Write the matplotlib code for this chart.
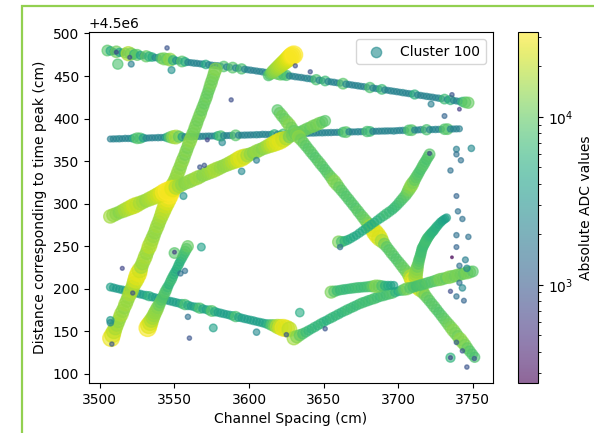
import numpy as np
import matplotlib
matplotlib.use("Agg")
import matplotlib.pyplot as plt
from matplotlib.colors import LogNorm
from matplotlib.patches import Rectangle

# Time-peak distances are stored relative to this baseline (cm)
Y_OFFSET = 4.5e6

# ---- hit tracks: channel position (cm), relative distance (cm), |ADC| ----
A_x = [3505, 3507, 3509, 3511, 3513, 3515, 3517, 3519, 3521, 3523, 3525, 3527, 3529, 3531,
       3533, 3535, 3537, 3539, 3541, 3543, 3545, 3547, 3549, 3551, 3553, 3555, 3557, 3559,
       3561, 3563, 3565, 3567, 3569, 3571, 3573, 3575, 3577, 3579, 3581, 3583, 3585, 3587,
       3589, 3591, 3593, 3595, 3597, 3599, 3601, 3603, 3605, 3607, 3609, 3611, 3613, 3615,
       3617, 3619, 3621, 3623, 3625, 3627, 3629, 3631, 3633, 3635, 3637, 3639, 3641, 3643,
       3645, 3647, 3649, 3651, 3653, 3655, 3657, 3659, 3661, 3663, 3665, 3667, 3669, 3671,
       3673, 3675, 3677, 3679, 3681, 3683, 3685, 3687, 3689, 3691, 3693, 3695, 3697, 3699,
       3701, 3703, 3705, 3707, 3709, 3711, 3713, 3715, 3717, 3719, 3721, 3723, 3725, 3727,
       3729, 3731, 3733, 3735, 3737, 3739, 3741, 3743, 3745, 3747]
A_y = [480.0, 479.6, 478.9, 478.5, 477.8, 477.5, 477.0, 476.3, 475.9, 475.5,
       474.8, 474.4, 473.9, 473.2, 472.9, 472.3, 471.7, 471.4, 470.8, 470.2,
       469.8, 469.3, 468.6, 468.3, 467.7, 467.1, 466.8, 466.1, 465.7, 465.2,
       464.9, 464.4, 464.0, 463.6, 463.2, 462.8, 462.3, 462.0, 461.5, 461.2,
       460.7, 460.3, 459.9, 459.5, 459.0, 458.4, 458.0, 457.4, 456.9, 456.5,
       455.9, 455.4, 454.9, 454.3, 453.9, 453.3, 452.8, 452.4, 451.8, 451.3,
       450.8, 450.2, 449.8, 449.2, 448.7, 448.3, 447.7, 447.2, 446.7, 446.1,
       445.7, 445.1, 444.6, 444.2, 443.6, 443.1, 442.6, 442.0, 441.6, 441.0,
       440.5, 440.1, 439.5, 439.0, 438.5, 437.9, 437.5, 436.9, 436.5, 435.9,
       435.3, 434.8, 434.3, 433.7, 433.2, 432.6, 432.1, 431.6, 431.0, 430.5,
       429.9, 429.4, 428.9, 428.3, 427.8, 427.2, 426.7, 426.1, 425.6, 425.1,
       424.5, 424.0, 423.4, 422.9, 422.4, 421.8, 421.3, 420.7, 420.2, 419.6,
       419.1, 418.6]
A_adc = [9000, 5000, 2600, 11000, 4500, 2800, 7000, 18000, 12000, 6000,
         9500, 4000, 2500, 10000, 6000, 5000, 2400, 2600, 8000, 12000,
         10000, 14000, 6000, 2800, 2500, 9000, 5000, 2300, 2100, 2400,
         2200, 2100, 2500, 5000, 2300, 2100, 2200, 2400, 2000, 8500,
         2200, 2100, 9000, 2300, 2000, 8000, 2200, 2100, 2300, 1900,
         2200, 2000, 2400, 2100, 2200, 2000, 2300, 9000, 10000, 7000,
         8000, 2200, 2100, 2300, 2000, 2200, 1900, 2400, 2100, 2200,
         8000, 2300, 2000, 7000, 2200, 2100, 2300, 2000, 2200, 9000,
         2400, 2100, 2200, 2000, 2300, 2100, 2200, 1900, 8000, 2200,
         2100, 2300, 7000, 2200, 2000, 2300, 2100, 2200, 2000, 2400,
         2100, 2200, 2300, 6000, 2100, 2200, 2000, 2300, 2100, 2200,
         2000, 2400, 2100, 7000, 2200, 6000, 2100, 2300, 2200, 6000,
         9000, 10000]

B_x = [3507, 3509, 3511, 3513, 3515, 3517, 3519, 3521, 3523, 3525, 3527, 3529, 3531, 3533,
       3535, 3537, 3539, 3541, 3543, 3545, 3547, 3549, 3551, 3553, 3555, 3557, 3559, 3561,
       3563, 3565, 3567, 3569, 3571, 3573, 3575, 3577, 3579, 3581, 3583, 3585, 3587, 3589,
       3591, 3593, 3595, 3597, 3599, 3601, 3603, 3605, 3607, 3609, 3611, 3613, 3615, 3617,
       3619, 3621, 3623, 3625, 3627, 3629, 3631, 3633, 3635, 3637, 3639, 3641, 3643, 3645,
       3647, 3649, 3651, 3653, 3655, 3657, 3659, 3661, 3663, 3665, 3667, 3669, 3671, 3673,
       3675, 3677, 3679, 3681, 3683, 3685, 3687, 3689, 3691, 3693, 3695, 3697, 3699, 3701,
       3703, 3705, 3707, 3709, 3711, 3713, 3715, 3717, 3719, 3721, 3723, 3725, 3727, 3729,
       3731, 3733, 3735, 3737, 3739, 3741]
B_y = [376.0, 376.1, 376.2, 376.3, 376.4, 376.7, 376.6, 376.7, 376.8, 376.9,
       377.0, 377.1, 377.0, 377.3, 377.4, 377.5, 377.6, 377.7, 377.8, 377.9,
       378.1, 378.2, 378.3, 378.7, 378.5, 378.6, 378.7, 378.8, 378.9, 379.0,
       379.1, 379.2, 379.3, 379.4, 379.5, 379.6, 379.7, 379.6, 379.9, 380.0,
       380.1, 380.2, 380.3, 380.4, 380.5, 380.6, 380.7, 380.8, 380.9, 381.0,
       381.1, 381.5, 381.3, 381.4, 381.5, 381.6, 381.7, 381.8, 382.0, 382.1,
       382.2, 382.3, 382.4, 382.5, 382.6, 382.7, 382.6, 382.9, 383.0, 383.1,
       383.2, 383.3, 383.4, 383.5, 383.6, 383.7, 383.8, 383.9, 384.0, 384.1,
       384.5, 384.3, 384.4, 384.5, 384.6, 384.7, 384.8, 384.9, 385.0, 385.1,
       385.2, 385.3, 385.4, 385.5, 385.6, 385.4, 385.8, 386.0, 386.1, 386.2,
       386.3, 386.4, 386.5, 386.6, 387.0, 386.8, 386.9, 387.0, 387.1, 387.2,
       387.3, 387.4, 387.5, 387.6, 387.7, 387.8, 387.9, 388.0]
B_adc = [2000, 2200, 2100, 2400, 2000, 2300, 2200, 2500, 5000, 9000,
         8000, 4000, 2300, 2100, 2200, 2000, 2400, 2200, 2300, 5000,
         9000, 14000, 17000, 10000, 4000, 2200, 2100, 2300, 2000, 2200,
         2400, 2100, 2200, 2300, 2000, 2200, 5000, 8000, 2400, 2100,
         2200, 2300, 9000, 2200, 2000, 2300, 2100, 2200, 2000, 2400,
         2100, 2200, 2300, 2000, 2200, 6000, 2100, 2300, 7000, 2200,
         2000, 2300, 2100, 2200, 2400, 2000, 2200, 2100, 2300, 2200,
         2000, 2400, 2100, 2200, 2300, 2000, 2200, 2100, 7000, 9000,
         2300, 2200, 2000, 2400, 2100, 2200, 8000, 7000, 2300, 2000,
         2200, 2100, 2300, 2200, 2000, 2400, 2100, 2200, 2300, 2000,
         8000, 9000, 2200, 2100, 2300, 2000, 8000, 2200, 2100, 2400,
         2200, 2000, 8500, 9000, 2300, 2100, 2200, 2000]

K_x = [3507, 3509, 3511, 3513, 3515, 3517, 3519, 3521, 3523, 3525, 3527, 3529, 3531, 3533,
       3535, 3537, 3539, 3541, 3543, 3545, 3547, 3549, 3551, 3553, 3555, 3557, 3559, 3561,
       3563, 3565, 3567, 3569, 3571, 3573, 3575, 3577, 3579, 3581, 3583, 3585, 3587, 3589,
       3591, 3593, 3595, 3597, 3599, 3601, 3603, 3605, 3607, 3609, 3611, 3613, 3615, 3617,
       3619, 3621, 3623, 3625, 3627]
K_y = [202.0, 201.2, 200.3, 199.5, 198.7, 197.9, 197.0, 196.2, 195.4, 194.6,
       193.7, 192.9, 192.1, 191.3, 190.4, 189.6, 188.8, 188.0, 187.1, 186.3,
       185.5, 184.7, 183.8, 183.0, 182.2, 181.4, 180.5, 179.7, 178.9, 178.0,
       177.2, 176.4, 175.6, 174.7, 173.9, 173.1, 172.3, 171.4, 170.6, 169.8,
       169.0, 168.1, 167.3, 166.5, 165.7, 164.8, 164.0, 163.2, 162.4, 161.5,
       160.7, 159.9, 159.0, 158.2, 157.4, 156.6, 155.7, 154.9, 154.1, 153.3, 152.4]
K_adc = [4000, 3800, 3600, 3500, 3900, 3700, 3400, 3000, 3600, 3800,
         4000, 3700, 4500, 6000, 4200, 3900, 3700, 3800, 4000, 3600,
         3800, 3900, 4100, 3800, 5500, 8000, 5000, 3700, 3900, 5500,
         8000, 4500, 3800, 5500, 9000, 5000, 3900, 4100, 3800, 3700,
         4000, 5000, 8000, 4500, 3800, 4000, 3700, 3900, 4100, 3800,
         4000, 4200, 4500, 6000, 9000, 12000, 18000, 22000, 28000, 26000, 20000]

C_x = [3507.5, 3508.5, 3509.4, 3510.4, 3511.4, 3512.4, 3513.3, 3514.3, 3515.3, 3516.3,
       3517.2, 3518.2, 3519.1, 3520.1, 3521.0, 3522.0, 3522.9, 3523.9, 3524.8, 3525.8,
       3526.7, 3527.7, 3528.6, 3529.6, 3530.5, 3531.4, 3532.3, 3533.2, 3534.1, 3535.0,
       3535.9, 3536.8, 3537.7, 3538.6, 3539.5, 3540.4, 3541.3, 3542.2, 3543.1, 3544.0,
       3544.9, 3545.7, 3546.6, 3547.5, 3548.4, 3549.2, 3550.1, 3551.0, 3551.8, 3552.7,
       3553.6, 3554.4, 3555.3, 3556.2, 3557.1, 3557.9, 3558.8, 3559.6, 3560.5, 3561.4,
       3562.2, 3563.1, 3563.9, 3564.8, 3565.6, 3566.5, 3567.4, 3568.2, 3569.1, 3569.9,
       3570.8, 3571.6, 3572.3, 3573.1, 3573.8, 3574.6, 3575.3, 3576.1, 3576.8, 3577.6]
C_y = [142, 146, 150, 154, 158, 162, 166, 170, 174, 178,
       182, 186, 190, 194, 198, 202, 206, 210, 214, 218,
       222, 226, 230, 234, 238, 242, 246, 250, 254, 258,
       262, 266, 270, 274, 278, 282, 286, 290, 294, 298,
       302, 306, 310, 314, 318, 322, 326, 330, 334, 338,
       342, 346, 350, 354, 358, 362, 366, 370, 374, 378,
       382, 386, 390, 394, 398, 402, 406, 410, 414, 418,
       422, 426, 430, 434, 438, 442, 446, 450, 454, 458]
C_adc = [28000, 24000, 20000, 17000, 16000, 15000, 15000, 17000, 15000, 14000,
         16000, 15000, 15000, 17000, 18000, 16000, 19000, 23000, 26000, 27000,
         22000, 16000, 15000, 16000, 17000, 15000, 16000, 19000, 17000, 16000,
         15000, 14000, 15000, 16000, 15000, 16000, 17000, 19000, 20000, 22000,
         25000, 28000, 32000, 31000, 26000, 20000, 16000, 15000, 14000, 15000,
         14000, 13000, 14000, 13000, 12000, 13000, 12000, 13000, 14000, 13000,
         12000, 11000, 12000, 12000, 11000, 11500, 12000, 10500, 11000, 10000,
         10500, 11000, 10000, 10500, 11000, 12000, 11000, 11500, 12000, 13000]

D_x = [3507, 3509, 3511, 3513, 3515, 3517, 3519, 3521, 3523, 3525, 3527, 3529, 3531, 3533,
       3535, 3537, 3539, 3541, 3543, 3545, 3547, 3549, 3551, 3553, 3555, 3557, 3559, 3561,
       3563, 3565, 3567, 3569, 3571, 3573, 3575, 3577, 3579, 3581, 3583, 3585, 3587, 3589,
       3591, 3593, 3595, 3597, 3599, 3601, 3603, 3605, 3607, 3609, 3611, 3613, 3615, 3617,
       3619, 3621, 3623, 3625, 3627, 3629, 3631, 3633, 3635, 3637, 3639, 3641, 3643, 3645,
       3647, 3649, 3651]
D_y = [285.0, 286.6, 288.1, 289.7, 291.2, 292.8, 294.4, 295.9, 297.5, 299.0,
       300.6, 302.2, 303.7, 305.3, 306.8, 308.4, 310.0, 311.5, 313.1, 314.6,
       316.2, 317.8, 319.3, 320.9, 322.4, 324.0, 325.6, 327.1, 328.7, 330.2,
       331.8, 333.4, 334.9, 336.5, 338.0, 339.6, 341.2, 342.7, 344.3, 345.8,
       347.4, 349.0, 350.5, 352.1, 353.6, 355.2, 356.8, 358.3, 359.9, 361.4,
       363.0, 364.6, 366.1, 367.7, 369.2, 370.8, 372.4, 373.9, 375.5, 377.0,
       378.6, 380.2, 381.7, 383.3, 384.8, 386.4, 388.0, 389.5, 391.1, 392.6,
       394.2, 395.8, 397.3]
D_adc = [16000, 15000, 14000, 13000, 15000, 17000, 18000, 20000, 22000, 20000,
         17000, 16000, 15000, 17000, 18000, 20000, 22000, 25000, 30000, 32000,
         30000, 26000, 18000, 16000, 14000, 13000, 14000, 15000, 14000, 16000,
         15000, 13000, 14000, 15000, 16000, 17000, 16000, 15000, 14000, 15000,
         16000, 18000, 20000, 24000, 26000, 22000, 16000, 14000, 13000, 15000,
         14000, 13000, 15000, 17000, 20000, 23000, 25000, 26000, 22000, 17000,
         12000, 11000, 10000, 11000, 9500, 10000, 11000, 10000, 12000, 11000,
         12000, 10000, 9000]

E_x = [3619.0, 3620.6, 3622.2, 3623.8, 3625.4, 3627.0, 3628.6, 3630.1, 3631.7, 3633.3,
       3634.9, 3636.5, 3638.1, 3639.7, 3641.3, 3642.9, 3644.5, 3646.1, 3647.7, 3649.3,
       3650.9, 3652.4, 3654.0, 3655.6, 3657.2, 3658.8, 3660.4, 3662.0, 3663.6, 3665.2,
       3666.8, 3668.4, 3670.0, 3671.6, 3673.1, 3674.7, 3676.3, 3677.9, 3679.5, 3681.1,
       3682.7, 3684.3, 3685.9, 3687.5, 3689.1, 3690.7, 3692.3, 3693.9, 3695.4, 3697.0,
       3698.6, 3700.2, 3701.8, 3703.4, 3705.0, 3706.6, 3708.2, 3709.8, 3711.4, 3713.0,
       3714.6, 3716.2, 3717.7, 3719.3, 3720.9, 3722.5, 3724.1, 3725.7, 3727.3, 3728.9,
       3730.5, 3732.1, 3733.7, 3735.3, 3736.9, 3738.5, 3740.0, 3741.6, 3743.2, 3744.8,
       3746.4, 3748.0, 3749.6, 3751.2]
E_y = [410.0, 406.5, 403.0, 399.5, 396.0, 392.5, 389.0, 385.5, 382.0, 378.5,
       375.0, 371.5, 368.0, 364.5, 361.0, 357.5, 354.0, 350.5, 347.0, 343.5,
       340.0, 336.5, 333.0, 329.5, 326.0, 322.5, 319.0, 315.5, 312.0, 308.5,
       305.0, 301.5, 298.0, 294.5, 291.0, 287.5, 284.0, 280.5, 277.0, 273.5,
       270.0, 266.5, 263.0, 259.5, 256.0, 252.5, 249.0, 245.5, 242.0, 238.5,
       235.0, 231.5, 228.0, 224.5, 221.0, 217.5, 214.0, 210.5, 207.0, 203.5,
       200.0, 196.5, 193.0, 189.5, 186.0, 182.5, 179.0, 175.5, 172.0, 168.5,
       165.0, 161.5, 158.0, 154.5, 151.0, 147.5, 144.0, 140.5, 137.0, 133.5,
       130.0, 126.5, 123.0, 119.5]
E_adc = [9000, 10000, 11000, 10000, 12000, 13000, 11000, 10000, 12000, 14000,
         11000, 10000, 9500, 9000, 9500, 9000, 8500, 9000, 9500, 9000,
         8500, 9000, 9500, 11000, 13000, 12000, 10000, 9500, 9000, 8500,
         9000, 8500, 9000, 8500, 9500, 9000, 10000, 10500, 12000, 16000,
         20000, 26000, 27000, 24000, 16000, 11000, 9500, 9000, 9500, 9000,
         8500, 9000, 9500, 10000, 10500, 12000, 18000, 26000, 30000, 28000,
         22000, 14000, 11000, 10000, 9500, 9000, 9500, 9000, 8500, 9000,
         9500, 10000, 11000, 12000, 13000, 12000, 11000, 14000, 13000, 12000,
         10000, 9000, 8500, 8000]

F_x = [3613, 3614, 3615, 3616, 3617, 3618, 3619, 3620, 3621, 3622, 3623, 3624, 3625, 3626,
       3627, 3628, 3629, 3630]
F_y = [450.5, 452.0, 453.5, 455.0, 456.5, 458.0, 459.5, 461.0, 462.5, 464.0, 465.5, 467.0,
       468.5, 470.0, 471.5, 473.0, 474.0, 475.0]
F_adc = [8000, 9000, 11000, 13000, 14000, 15000, 16000, 17000, 18000, 19000, 20000, 21000,
         22000, 24000, 26000, 28000, 30000, 32000]

G_x = [3660, 3662, 3664, 3666, 3668, 3670, 3672, 3674, 3676, 3678, 3680, 3682, 3684, 3686,
       3688, 3690, 3692, 3694, 3696, 3697.5, 3699, 3700.5, 3702, 3703.5, 3705, 3706, 3707,
       3708, 3709, 3710, 3711, 3712, 3713, 3714, 3715, 3716, 3717, 3718, 3719, 3720, 3721]
G_y = [255.0, 255.3, 256.0, 257.3, 259.0, 261.0, 263.0, 265.5, 268.0, 270.5, 273.0, 275.5,
       278.0, 280.5, 283.0, 285.5, 288.0, 290.5, 293.0, 295.5, 298.0, 301.0, 304.0, 307.0,
       310.0, 313.0, 316.0, 319.0, 322.0, 325.0, 328.0, 331.0, 334.0, 337.0, 340.0, 343.0,
       346.0, 349.0, 352.0, 355.0, 358.0]
G_adc = [12000, 8000, 6000, 5500, 5000, 4800, 4500, 4800, 5000, 5200, 5500, 5200, 5000, 5500,
         6000, 6500, 7000, 6800, 6500, 6800, 7000, 7500, 8000, 8500, 9000, 10000, 12000,
         13000, 14000, 12000, 10000, 9500, 9000, 8500, 8000, 8500, 9000, 8500, 8000, 8500, 9000]

H_x = [3711.5, 3711.8, 3712.1, 3712.5, 3712.9, 3713.4, 3713.8, 3714.2, 3714.6, 3715.0,
       3715.3, 3715.7, 3716.0, 3716.5, 3717.1, 3717.6, 3718.2, 3718.8, 3719.4, 3720.1,
       3720.8, 3721.5, 3722.3, 3723.2, 3724.0, 3725.0, 3726.0, 3727.2, 3728.3, 3729.3,
       3730.3, 3731.4, 3732.4]
H_y = [214.0, 217.0, 220.0, 223.0, 226.2, 229.4, 232.6, 235.1, 237.5, 240.0,
       242.5, 245.0, 247.4, 249.3, 251.1, 253.0, 255.0, 257.0, 259.0, 260.7,
       262.3, 264.0, 265.7, 267.3, 269.0, 271.3, 273.5, 275.8, 278.0, 279.5,
       281.0, 282.2, 283.4]
H_adc = [16000, 15000, 14000, 13000, 11000, 9500, 9000, 8500, 8000, 8000,
         7500, 7500, 7500, 7000, 7000, 7000, 7500, 7500, 7500, 7000,
         6500, 6500, 6000, 6000, 6000, 5500, 5500, 5000, 5000, 4500,
         4500, 4200, 4000]

I_x = [3630, 3632, 3634, 3636, 3638, 3640, 3642, 3644, 3646, 3648, 3650, 3652, 3654, 3656,
       3658, 3660, 3662, 3664, 3666, 3668, 3670, 3672, 3674, 3676, 3678, 3680, 3682, 3684,
       3686, 3688, 3690, 3692, 3694, 3696, 3698, 3700, 3702, 3704, 3706, 3708, 3710, 3712,
       3714, 3716, 3718, 3720, 3722, 3724, 3726, 3728, 3730, 3732, 3734, 3736, 3738, 3740,
       3742, 3744, 3746, 3748, 3750]
I_y = [142.0, 143.7, 145.4, 147.1, 149.0, 151.0, 153.0, 155.0, 157.0, 159.0,
       161.0, 162.8, 164.7, 166.5, 168.4, 170.2, 172.1, 173.8, 175.5, 177.2,
       178.8, 180.5, 182.2, 183.6, 184.8, 186.1, 187.3, 188.5, 189.8, 191.0,
       192.0, 193.0, 194.0, 195.0, 196.0, 197.0, 198.0, 199.0, 200.0, 201.0,
       202.0, 203.0, 204.0, 205.0, 206.0, 207.0, 208.0, 209.0, 210.0, 210.9,
       211.7, 212.6, 213.5, 214.3, 215.2, 216.1, 217.0, 217.8, 218.7, 219.6, 220.4]
I_adc = [16000, 13000, 10000, 8000, 7000, 6500, 6000, 6500, 6000, 6500,
         6000, 5500, 6000, 6500, 6000, 6500, 6000, 6500, 7000, 6500,
         7000, 6500, 7000, 7500, 7000, 7500, 7000, 8000, 7500, 7000,
         8000, 7500, 8000, 8500, 6000, 5000, 7000, 10000, 12000, 9000,
         8000, 7500, 8000, 8500, 8000, 9000, 8500, 9000, 10000, 12000,
         11000, 10000, 13000, 12000, 11000, 12000, 11000, 10000, 12000, 11000, 9000]

J_x = [3655, 3657, 3659, 3661, 3663, 3665, 3667, 3669, 3671, 3673, 3675, 3677, 3679, 3681,
       3683, 3685, 3687, 3689, 3691, 3693, 3695, 3697]
J_y = [196.0, 196.9, 197.7, 198.4, 199.0, 199.5, 200.0, 200.5, 201.0, 201.4, 201.7,
       202.0, 202.3, 202.6, 202.8, 203.0, 203.2, 203.4, 203.6, 203.7, 203.9, 204.0]
J_adc = [12000, 9000, 7000, 6500, 7000, 6500, 6500, 7000, 7000, 7500, 7000,
         7000, 7500, 8000, 10000, 13000, 11000, 8000, 5500, 5000, 4500, 4000]

L_x = [3532.0, 3532.8, 3533.7, 3534.5, 3535.4, 3536.2, 3537.0, 3537.9, 3538.7, 3539.6,
       3540.4, 3541.2, 3542.1, 3542.9, 3543.8, 3544.6, 3545.4, 3546.3, 3547.1, 3548.0,
       3548.8, 3549.6, 3550.5, 3551.3, 3552.2, 3553.0, 3553.8, 3554.7, 3555.5, 3556.4,
       3557.2, 3558.0, 3558.9]
L_y = [154, 157, 160, 163, 166, 169, 172, 175, 178, 181, 184, 187, 190, 193, 196, 199,
       202, 205, 208, 211, 214, 217, 220, 223, 226, 229, 232, 235, 238, 241, 244, 247, 250]
L_adc = [30000, 26000, 22000, 18000, 16000, 15000, 14500, 14000, 13000, 11000,
         10000, 9000, 8500, 8000, 9000, 8000, 7000, 6000, 6500, 7000,
         6500, 6000, 5500, 5000, 5500, 6000, 5500, 6000, 6500, 7000,
         7500, 8500, 10000]

# ---- isolated hits ----
S_x = [3545, 3521, 3512, 3548, 3511, 3588, 3567, 3570, 3556, 3595, 3605, 3631, 3641,
       3572, 3582, 3736, 3722, 3731, 3741, 3739, 3739, 3749, 3742, 3735, 3739,
       3740, 3743, 3739, 3747, 3739, 3736, 3745, 3741, 3746, 3741, 3743, 3735, 3739, 3744,
       3739, 3743, 3735, 3735, 3746, 3515, 3559, 3560, 3576, 3550, 3550, 3568,
       3507, 3507, 3508, 3605, 3634, 3625, 3651, 3554, 3557, 3520, 3661, 3721, 3751, 3522]
S_y = [483, 464, 464, 457, 478, 422, 343, 345, 309, 338, 351, 462, 455,
       375, 372, 428, 417, 403, 411, 364, 358, 365, 351, 339, 309,
       291, 282, 263, 261, 249, 237, 234, 227, 224, 207, 201, 197, 191, 186,
       137, 127, 119, 119, 108, 224, 167, 142, 154, 242, 243, 249,
       163, 160, 135, 149, 172, 146, 153, 218, 221, 472, 249, 359, 118, 195]
S_adc = [900, 2000, 8000, 3000, 700, 800, 900, 900, 3000, 2500, 2000, 800, 800,
         700, 2500, 900, 2000, 1200, 600, 2000, 1500, 2500, 1500, 1500, 1200,
         1500, 1500, 1500, 1500, 1200, 260, 2000, 1500, 2500, 1500, 2500, 800, 1500, 1200,
         1000, 900, 6000, 700, 900, 700, 1500, 900, 4000, 9000, 600, 4000,
         3500, 2500, 900, 2500, 5000, 900, 900, 1500, 1500, 700, 1500, 700, 900, 800]

tracks = [
    (A_x, A_y, A_adc), (B_x, B_y, B_adc), (K_x, K_y, K_adc),
    (C_x, C_y, C_adc), (D_x, D_y, D_adc), (L_x, L_y, L_adc),
    (E_x, E_y, E_adc), (F_x, F_y, F_adc), (G_x, G_y, G_adc),
    (H_x, H_y, H_adc), (I_x, I_y, I_adc), (J_x, J_y, J_adc),
    (S_x, S_y, S_adc),
]
x = np.concatenate([np.asarray(t[0], float) for t in tracks])
y = np.concatenate([np.asarray(t[1], float) for t in tracks]) + Y_OFFSET
adc = np.concatenate([np.asarray(t[2], float) for t in tracks])

# marker area grows sub-linearly with the pulse height
sizes = 0.04 * adc ** 0.8

fig = plt.figure(figsize=(5.94, 4.33), dpi=100)
ax = fig.add_axes([89 / 594, 50 / 433, 404 / 594, 351 / 433])
cax = fig.add_axes([518 / 594, 50 / 433, 20 / 594, 351 / 433])

sc = ax.scatter(x, y, c=adc, s=sizes, cmap="viridis", norm=LogNorm(),
                alpha=0.6, label="Cluster 100")

ax.set_xlabel("Channel Spacing (cm)")
ax.set_ylabel("Distance corresponding to time peak (cm)")
ax.set_xticks([3500, 3550, 3600, 3650, 3700, 3750])

leg = ax.legend(loc="upper right")
handle = leg.legend_handles[0]
handle.set_array(None)
handle.set_facecolor(sc.cmap(sc.norm(2600)))
handle.set_edgecolor(sc.cmap(sc.norm(2600)))
handle.set_sizes([55])

cb = fig.colorbar(sc, cax=cax)
cb.set_label("Absolute ADC values")

# light green frame around the figure
fig.patches.append(Rectangle((22 / 594, -0.05), 1.2, (433 - 6) / 433 + 0.05,
                             transform=fig.transFigure, fill=False,
                             edgecolor="#92d050", linewidth=1.6, clip_on=False))

fig.savefig("out.png", dpi=100)
